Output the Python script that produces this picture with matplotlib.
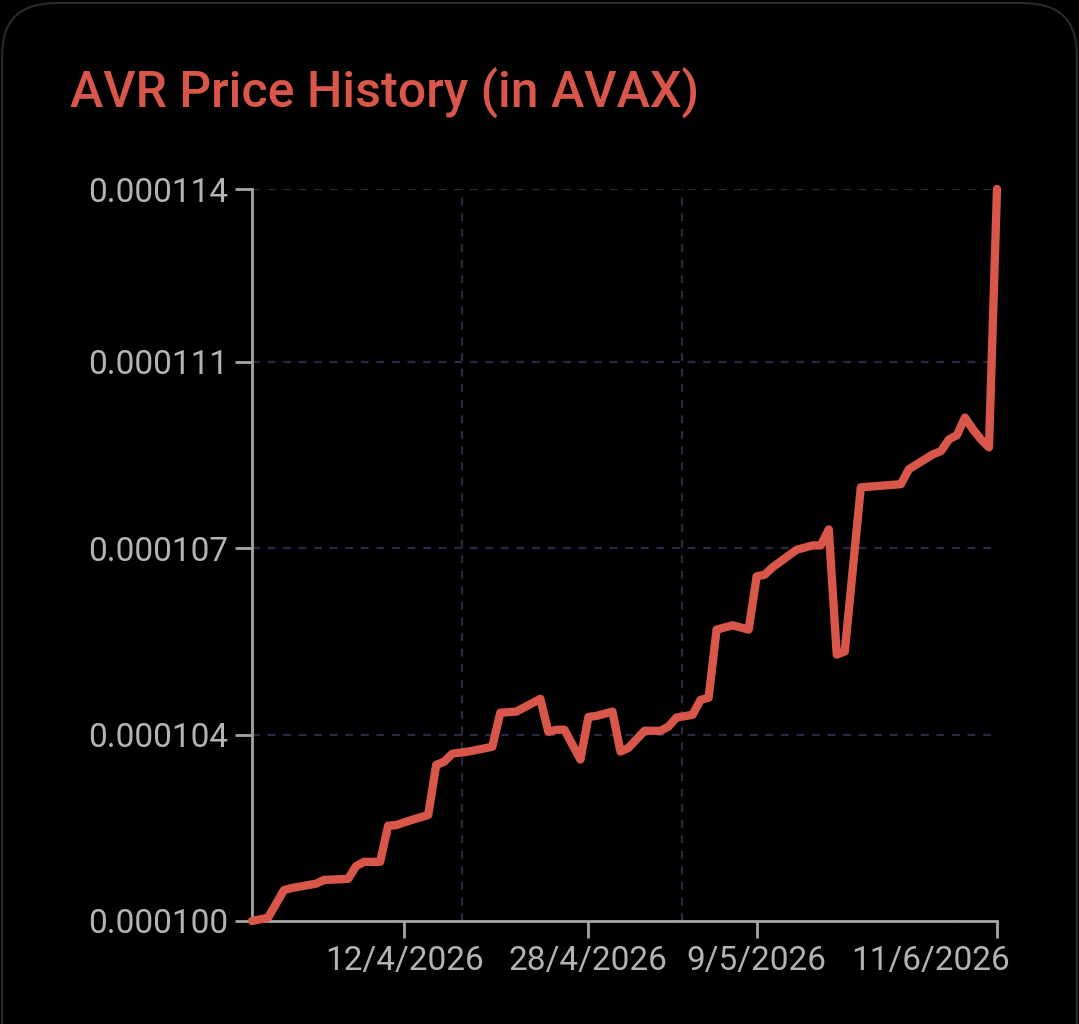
import matplotlib
matplotlib.use("Agg")
import matplotlib.pyplot as plt
import matplotlib.transforms as mtransforms
from matplotlib.patches import FancyBboxPatch

# sample index along the categorical x axis and price (in 1e-6 AVAX)
sample_idx = [0, 2, 4, 5, 8, 9, 12, 13, 14, 16, 17, 18, 20, 22, 23, 24, 25, 27, 30,
              31, 33, 36, 37, 38, 39, 41, 42, 43, 45, 46, 47, 49, 51, 52, 53, 55,
              56, 57, 58, 60, 61, 62, 63, 64, 65, 68, 70, 71, 72, 73, 74, 76, 81,
              82, 85, 86, 87, 88, 89, 90, 91, 92, 93]
price_micro = [100.00, 100.06, 100.58, 100.62, 100.70, 100.77, 100.79, 101.03, 101.11,
               101.11, 101.79, 101.80, 101.90, 101.99, 102.93, 102.99, 103.14, 103.18,
               103.27, 103.91, 103.93, 104.17, 103.55, 103.59, 103.59, 103.03, 103.83,
               103.85, 103.93, 103.18, 103.25, 103.57, 103.57, 103.65, 103.82, 103.87,
               104.15, 104.19, 105.47, 105.55, 105.51, 105.47, 106.47, 106.50, 106.64,
               106.97, 107.05, 107.05, 107.35, 105.00, 105.06, 108.14, 108.20, 108.48,
               108.76, 108.82, 109.04, 109.12, 109.45, 109.23, 109.04, 108.89, 113.74]
price = [p * 1e-6 for p in price_micro]

date_ticks = [19, 42, 63, 93]
date_labels = ["12/4/2026", "28/4/2026", "9/5/2026", "11/6/2026"]
y_ticks = [100e-6, 103.5e-6, 107e-6, 110.5e-6, 113.74e-6]
y_labels = ["0.000100", "0.000104", "0.000107", "0.000111", "0.000114"]

LINE = "#d9574a"
AXIS = "#a6a6a6"
TXT = "#b4b4b4"
GRID = "#272a42"

plt.rcParams["font.family"] = ["Roboto", "DejaVu Sans"]

fig = plt.figure(figsize=(10.79, 10.24), dpi=100)
fig.patch.set_facecolor("black")

card = FancyBboxPatch((0.002, -0.2), 0.996, 1.197, boxstyle="round,pad=0,rounding_size=0.05",
                      transform=fig.transFigure, facecolor="none", edgecolor="#2a2a2a",
                      linewidth=1.5, zorder=-1)
fig.patches.append(card)

fig.text(0.0649, 0.8945, "AVR Price History (in AVAX)", color=LINE, fontsize=36,
         fontweight="medium", va="baseline", ha="left")

ax = fig.add_axes([0.2335, 0.1006, 0.6905, 0.7148])
ax.set_facecolor("black")

ax.plot(sample_idx, price, color=LINE, linewidth=6, solid_joinstyle="round",
        solid_capstyle="round", clip_on=False, zorder=5)

ax.set_xlim(0, 93)
ax.set_ylim(y_ticks[0], y_ticks[-1])

ax.set_xticks(date_ticks)
ax.set_xticklabels(date_labels)
ax.set_xticks([26.2, 53.7, 93], minor=True)
ax.set_yticks(y_ticks)
ax.set_yticklabels(y_labels)

for s in ["top", "right"]:
    ax.spines[s].set_visible(False)
for s in ["left", "bottom"]:
    ax.spines[s].set_color(AXIS)
    ax.spines[s].set_linewidth(2)

ax.tick_params(axis="both", which="major", colors=AXIS, labelcolor=TXT, labelsize=24,
               length=12, width=2, pad=5)
ax.tick_params(axis="x", which="minor", length=0)

# last date label is pushed inside the card, like the original
last = ax.get_xticklabels()[-1]
last.set_ha("right")
last.set_transform(last.get_transform() + mtransforms.ScaledTranslation(13 / 100, 0, fig.dpi_scale_trans))

ax.grid(axis="y", which="major", color=GRID, linewidth=1.6, linestyle=(0, (3.5, 3.5)))
ax.grid(axis="x", which="minor", color=GRID, linewidth=1.6, linestyle=(0, (3.5, 3.5)))
ax.set_axisbelow(True)

fig.savefig("out.png", dpi=100, facecolor="black")
